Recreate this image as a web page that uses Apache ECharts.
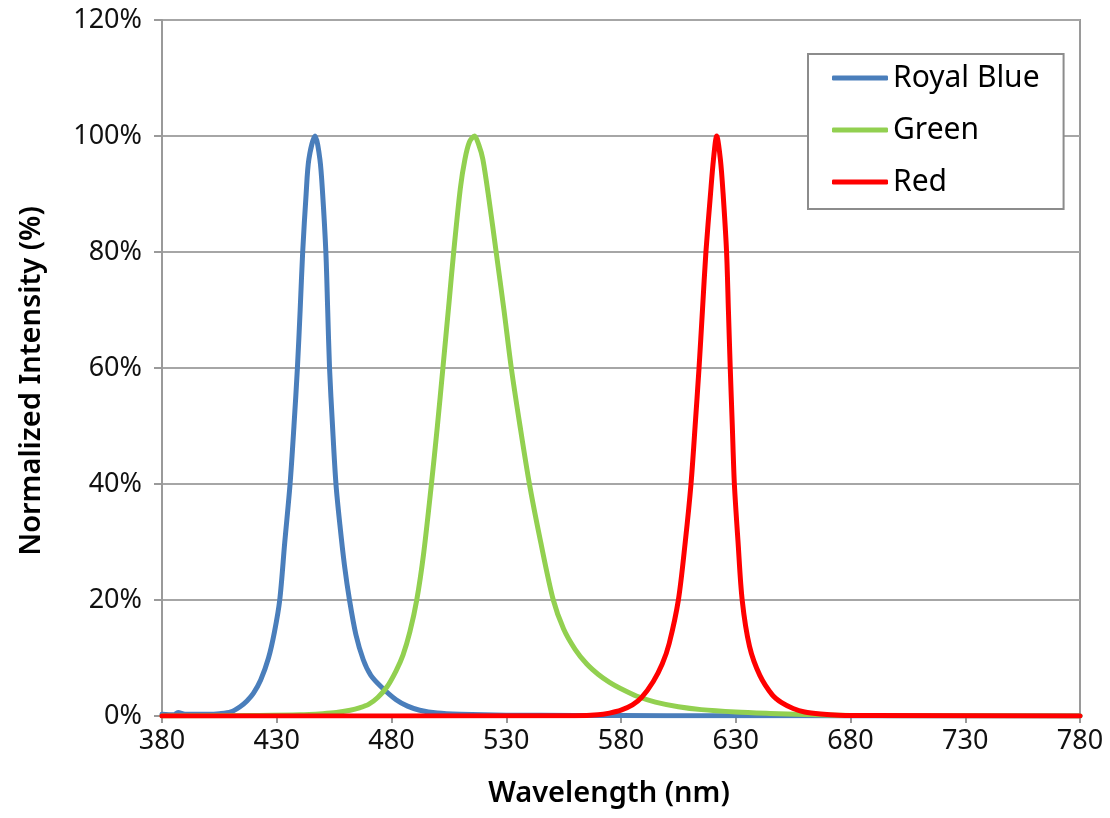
<!DOCTYPE html>
<html><head><meta charset="utf-8">
<script src="https://cdn.jsdelivr.net/npm/echarts@6/dist/echarts.min.js"></script>
<style>html,body{margin:0;padding:0;background:#fff}#c{width:1110px;height:818px}</style>
</head><body><div id="c"></div>
<script>
const seriesNames = ['Royal Blue', 'Green', 'Red'];
const blueNm = [380,385,387,390,400,405,410,414,417,419.8,423,426.4,429,431.3,433.5,435.8,437.5,439,440.2,441.3,442.8,444,446.7,448.8,450,451.4,452.2,453,454.3,455.8,457.5,459.5,461.7,464.5,467.7,471,475.6,482,487,492.3,500,510,530,560,600,640,680,780];
const blueVal = [0.3,0.2,0.6,0.3,0.3,0.4,0.7,1.6,2.6,3.9,6.2,10,14.5,20,30,40,50,60,70,80,90,96,100,96,90,80,70,60,50,40,33,26,20,14,9.7,7,5,2.8,1.7,1,0.5,0.3,0.15,0.1,0.05,0.05,0,0];
const greenNm = [380,420,440,450,456,462,466,470,474,478,482,485,488,491,494,497.4,500,502.4,505,507.1,510,512,514,516.2,518,519.8,522.5,525.6,529,532.2,536,540.1,545,550.5,555,560,565,570,575,580,587,595,605,615,630,645,660,680,700,780];
const greenVal = [0,0.1,0.2,0.4,0.6,1,1.4,2,3.2,5,7.8,10.5,14.5,20,28,40,50,60,71,80,91,96,99,100,98.5,96,89,80,70,60,50,40,30,20,15,11.5,9,7.2,5.8,4.7,3.4,2.4,1.6,1.1,0.7,0.45,0.25,0.1,0.05,0];
const redNm = [380,560,570,575,580,585,589,594,598,601,605,608,610.5,612.3,614,615.5,617,619,620.3,621.7,623.3,624.5,626,626.8,627.6,628.5,629.4,631,632.8,636,640.5,646,650,655,660,667,675,690,780];
const redVal = [0,0.05,0.2,0.5,1,1.9,3.2,5.9,9,12.5,20,30,40,50,60,70,80,90,96,100,96,90,80,70,60,50,40,30,20,12,7,3.6,2.3,1.3,0.7,0.35,0.15,0.08,0];
const yTicks = [0,20,40,60,80,100,120];
const xStart = 380, xEnd = 780, xStep = 50;

const colors = ['#4A7EBB', '#92D050', '#FF0000'];
const pairs = (nm, v) => nm.map((x, i) => [x - xStart, v[i]]);
const datas = [pairs(blueNm, blueVal), pairs(greenNm, greenVal), pairs(redNm, redVal)];
const FONT = 'Noto Sans';
const chart = echarts.init(document.getElementById('c'), null, {renderer: 'canvas'});
chart.setOption({
  animation: false,
  grid: {left: 162, right: 30, top: 20, bottom: 102, show: true, borderColor: '#9a9a9a', borderWidth: 2, containLabel: false},
  legend: {
    data: seriesNames, orient: 'vertical', left: 808, top: 54,
    backgroundColor: '#fff', borderColor: '#8c8c8c', borderWidth: 2,
    padding: [9, 24, 12, 24], itemGap: 22, itemWidth: 56, itemHeight: 5,
    icon: 'roundRect',
    textStyle: {fontFamily: FONT, fontSize: 30, color: '#000', lineHeight: 30}
  },
  xAxis: {
    type: 'value', min: 0, max: xEnd - xStart, interval: xStep,
    name: 'Wavelength (nm)', nameLocation: 'middle', nameGap: 63,
    nameTextStyle: {fontFamily: FONT, fontSize: 29, fontWeight: 600, color: '#000', padding: [0, 24, 0, 0]},
    axisLine: {show: true, lineStyle: {color: '#9a9a9a', width: 2}},
    axisTick: {show: true, length: 7, inside: false, lineStyle: {color: '#9a9a9a', width: 2}},
    axisLabel: {fontFamily: FONT, fontSize: 27, color: '#111', margin: 12, formatter: v => String(v + xStart)},
    splitLine: {show: false}
  },
  yAxis: {
    type: 'value', min: yTicks[0], max: yTicks[yTicks.length - 1], interval: 20,
    name: 'Normalized Intensity (%)', nameLocation: 'middle', nameGap: 116,
    nameTextStyle: {fontFamily: FONT, fontSize: 29, fontWeight: 600, color: '#000', padding: [0, 26, 0, 0]},
    axisLine: {show: true, lineStyle: {color: '#9a9a9a', width: 2}},
    axisTick: {show: true, length: 8, lineStyle: {color: '#9a9a9a', width: 2}},
    axisLabel: {fontFamily: FONT, fontSize: 27, color: '#111', margin: 20, formatter: '{value}%'},
    splitLine: {show: true, lineStyle: {color: '#a6a6a6', width: 2}}
  },
  series: seriesNames.map((n, i) => ({
    name: n, type: 'line', data: datas[i], showSymbol: false, symbol: 'none',
    smooth: 0.3, color: colors[i],
    lineStyle: {width: 5, color: colors[i], cap: 'round', join: 'round'},
    z: 2 + i
  }))
});
</script></body></html>
